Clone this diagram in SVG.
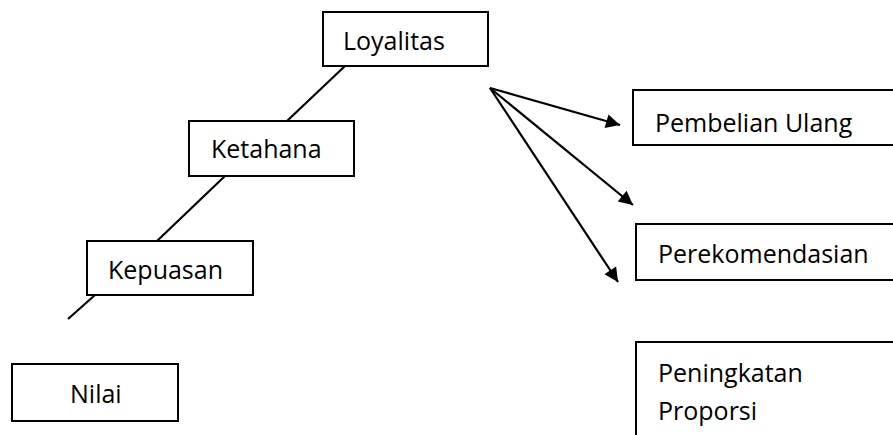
<svg xmlns="http://www.w3.org/2000/svg" width="893" height="435" viewBox="0 0 893 435">
<style>
.box{fill:#fff;stroke:#000;stroke-width:2}
.lbl{font-family:"Open Sans","Liberation Sans",sans-serif;font-size:25px;fill:#000}
.ln{stroke:#000;stroke-width:2.2;fill:none}
</style>
<defs>
<marker id="ah" viewBox="0 0 10 10" refX="10" refY="5" markerWidth="18" markerHeight="14" markerUnits="userSpaceOnUse" orient="auto" style="overflow:visible">
<path d="M0,0 L10,5 L0,10 Z" fill="#000"/>
</marker>
</defs>
<rect width="893" height="435" fill="#fff"/>
<g id="connectors">
<line class="ln" x1="345" y1="66" x2="287" y2="121"/>
<line class="ln" x1="225" y1="176" x2="157" y2="241"/>
<line class="ln" x1="95" y1="295" x2="68" y2="319"/>
<path class="ln" d="M490,88 L620,125" marker-end="url(#ah)"/>
<path class="ln" d="M490,88 L633,205" marker-end="url(#ah)"/>
<path class="ln" d="M490,88 L618,282" marker-end="url(#ah)"/>
</g>
<g id="loyalitas"><rect class="box" x="323" y="12" width="165" height="54"/><text class="lbl" x="343" y="50">Loyalitas</text></g>
<g id="ketahana"><rect class="box" x="189" y="121" width="165" height="55"/><text class="lbl" x="211" y="158">Ketahana</text></g>
<g id="kepuasan"><rect class="box" x="87" y="241" width="166" height="54"/><text class="lbl" x="108" y="279">Kepuasan</text></g>
<g id="nilai"><rect class="box" x="12" y="364" width="166" height="57"/><text class="lbl" x="70" y="403">Nilai</text></g>
<g id="pembelian"><rect class="box" x="633" y="90" width="270" height="55"/><text class="lbl" x="655" y="132">Pembelian Ulang</text></g>
<g id="perekomendasian"><rect class="box" x="636" y="224" width="270" height="56"/><text class="lbl" x="658" y="263">Perekomendasian</text></g>
<g id="peningkatan"><rect class="box" x="636" y="342" width="270" height="110"/><text class="lbl" x="658" y="382">Peningkatan</text><text class="lbl" x="658" y="420">Proporsi</text></g>
</svg>
